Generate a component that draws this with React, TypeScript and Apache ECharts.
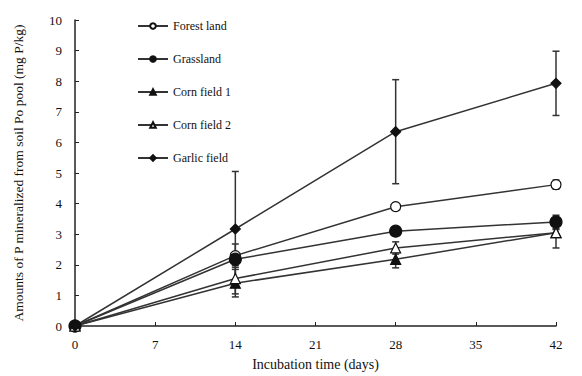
import React, { useEffect, useRef } from "react";
import * as echarts from "echarts";

const days = [0, 14, 28, 42];
const xTicks = [0, 7, 14, 21, 28, 35, 42];
const seriesNames = ["Forest land", "Grassland", "Corn field 1", "Corn field 2", "Garlic field"];
const forest = [0, 2.3, 3.9, 4.62];
const forestErr = [0, 0.38, 0.12, 0.15];
const grass = [0, 2.18, 3.1, 3.4];
const grassErr = [0, 0.2, 0.15, 0.22];
const corn1 = [0, 1.4, 2.18, 3.05];
const corn1Err = [0, 0.45, 0.28, 0.1];
const corn2 = [0, 1.55, 2.55, 3.05];
const corn2Err = [0, 0.5, 0.2, 0.5];
const garlic = [0, 3.17, 6.35, 7.93];
const garlicErr = [0, 1.88, 1.7, 1.05];

const FONT = "Liberation Serif";

export default function App() {
  const ref = useRef<HTMLDivElement>(null);
  useEffect(() => {
    if (!ref.current) return;
    const chart = echarts.init(ref.current, null, { renderer: "svg" });
    const vals = [forest, grass, corn1, corn2, garlic];
    const errs = [forestErr, grassErr, corn1Err, corn2Err, garlicErr];
    const symbols = ["circle", "circle", "triangle", "triangle", "diamond"];
    const sizes = [10, 12, 10, 10, 10];
    const fills = ["#fff", "#111", "#111", "#fff", "#111"];

    const lineSeries = seriesNames.map((name, i) => ({
      name,
      type: "line",
      data: days.map((d, j) => [d, vals[i][j]]),
      symbol: symbols[i],
      symbolSize: sizes[i],
      showAllSymbol: true,
      lineStyle: { color: "#333", width: 1.5 },
      itemStyle: { color: fills[i], borderColor: "#111", borderWidth: 1.2 },
      z: 3,
    }));

    const errData: number[][] = [];
    vals.forEach((v, i) => {
      days.forEach((d, j) => {
        if (errs[i][j] > 0) errData.push([d, v[j] - errs[i][j], v[j] + errs[i][j]]);
      });
    });

    const errSeries = {
      type: "custom",
      name: "err",
      data: errData,
      z: 2,
      silent: true,
      renderItem: (params: any, api: any) => {
        const x = api.value(0);
        const lo = api.coord([x, api.value(1)]);
        const hi = api.coord([x, api.value(2)]);
        const w = 3.5;
        const st = { stroke: "#333", lineWidth: 1.5 };
        return {
          type: "group",
          children: [
            { type: "line", shape: { x1: lo[0], y1: lo[1], x2: hi[0], y2: hi[1] }, style: st },
            { type: "line", shape: { x1: lo[0] - w, y1: lo[1], x2: lo[0] + w, y2: lo[1] }, style: st },
            { type: "line", shape: { x1: hi[0] - w, y1: hi[1], x2: hi[0] + w, y2: hi[1] }, style: st },
          ],
        };
      },
    };

    chart.setOption({
      animation: false,
      backgroundColor: "#fff",
      grid: { left: 75, right: 26, top: 20, bottom: 50 },
      legend: {
        data: seriesNames,
        orient: "vertical",
        left: 137,
        top: 20,
        padding: 0,
        itemWidth: 30,
        itemHeight: 7,
        itemGap: 21,
        textStyle: { fontFamily: FONT, fontSize: 12, color: "#111" },
      },
      xAxis: {
        type: "value",
        min: 0,
        max: 42,
        interval: 7,
        name: "Incubation time (days)",
        nameLocation: "middle",
        nameGap: 31,
        nameTextStyle: { fontFamily: FONT, fontSize: 14, color: "#111" },
        axisLine: { lineStyle: { color: "#222", width: 1.5 } },
        axisTick: { inside: true, length: 4, lineStyle: { color: "#222" }, customValues: xTicks },
        axisLabel: { fontFamily: FONT, fontSize: 13, color: "#111", margin: 12, customValues: xTicks },
        splitLine: { show: false },
      },
      yAxis: {
        type: "value",
        min: 0,
        max: 10,
        interval: 1,
        name: "Amounts of P mineralized from soil Po pool (mg P/kg)",
        nameLocation: "middle",
        nameGap: 50,
        nameTextStyle: { fontFamily: FONT, fontSize: 13.5, color: "#111" },
        axisLine: { show: true, lineStyle: { color: "#222", width: 1.5 } },
        axisTick: { show: true, inside: true, length: 4, lineStyle: { color: "#222" } },
        axisLabel: { fontFamily: FONT, fontSize: 13, color: "#111", margin: 13 },
        splitLine: { show: false },
      },
      series: [...lineSeries, errSeries],
    });
    return () => chart.dispose();
  }, []);
  return <div ref={ref} style={{ width: 582, height: 376, position: "fixed", left: 0, top: 0 }} />;
}
